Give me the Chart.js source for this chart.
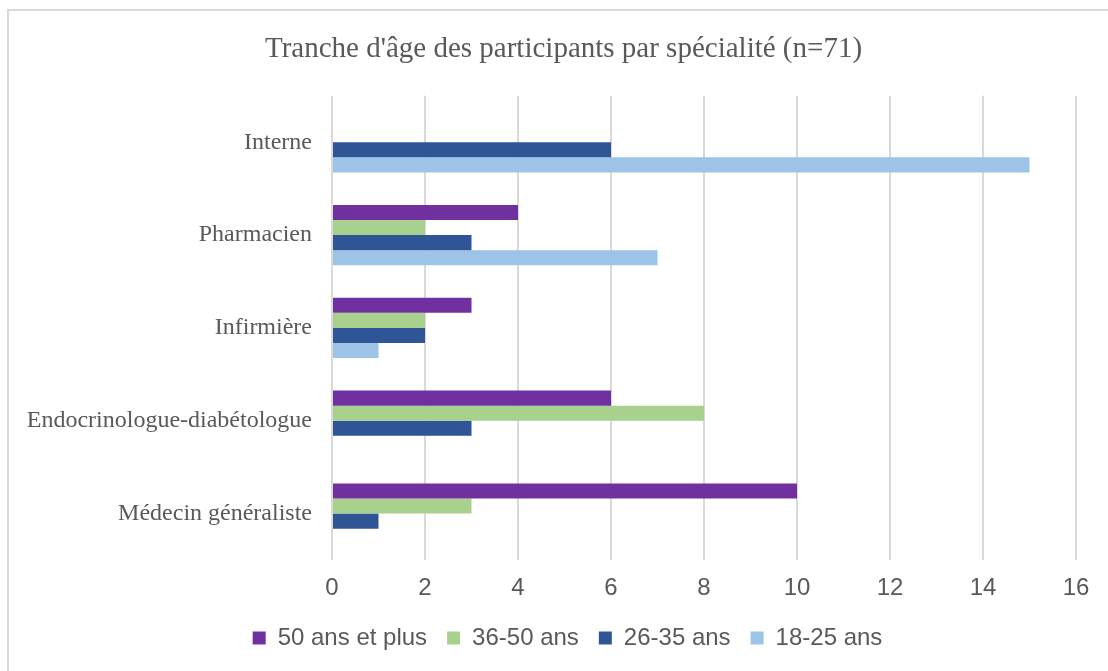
<!DOCTYPE html>
<html>
<head>
<meta charset="utf-8">
<script src="https://cdn.jsdelivr.net/npm/chart.js@4.4.1/dist/chart.umd.min.js"></script>
<style>
  html, body { margin: 0; padding: 0; background: #fff; overflow: hidden; }
  #wrap { position: relative; width: 1108px; height: 671px; }
  #frame { position: absolute; left: 7px; top: 9px; width: 1200px; height: 800px;
           border: 2px solid #d9d9d9; pointer-events: none; }
</style>
</head>
<body>
<div id="wrap">
  <canvas id="bar-chart" width="1108" height="671"></canvas>
  <div id="frame"></div>
</div>
<script>
// categories, top to bottom
const categories = ["Interne", "Pharmacien", "Infirmière", "Endocrinologue-diabétologue", "Médecin généraliste"];
const seriesNames = ["50 ans et plus", "36-50 ans", "26-35 ans", "18-25 ans"];
const age50plus = [0, 4, 3, 6, 10];
const age36to50 = [0, 2, 2, 8, 3];
const age26to35 = [6, 3, 2, 3, 1];
const age18to25 = [15, 7, 1, 0, 0];
const xTicks = [0, 2, 4, 6, 8, 10, 12, 14, 16];

const colors = ["#7030A0", "#A9D18E", "#2F5597", "#9DC3E6"];
const values = [age50plus, age36to50, age26to35, age18to25];

const datasets = [];
for (let i = 0; i < seriesNames.length; i++) {
  datasets.push({
    label: seriesNames[i],
    data: values[i],
    backgroundColor: colors[i],
    borderWidth: 0,
    categoryPercentage: 0.65,
    barPercentage: 1.0
  });
}

// title and legend are centred a bit right of the canvas centre, like the original
const shiftBoxes = {
  id: 'shiftBoxes',
  afterLayout(chart) {
    if (chart.titleBlock) chart.titleBlock.left = 51;
    if (chart.legend) chart.legend.left = 59;
  }
};

new Chart(document.getElementById("bar-chart"), {
  type: 'bar',
  data: { labels: categories, datasets: datasets },
  plugins: [shiftBoxes],
  options: {
    indexAxis: 'y',
    responsive: false,
    animation: false,
    layout: { padding: { top: 10, left: 0, right: 32, bottom: 11 } },
    plugins: {
      title: {
        display: true,
        text: "Tranche d'âge des participants par spécialité (n=71)",
        color: '#595959',
        font: { family: '"Liberation Serif", "Times New Roman", serif', size: 29, weight: 'normal', lineHeight: 1.2 },
        padding: { top: 22, bottom: 29 }
      },
      legend: {
        position: 'bottom',
        labels: {
          color: '#595959',
          boxWidth: 13,
          boxHeight: 13,
          padding: 20,
          font: { family: '"Liberation Sans", Arial, sans-serif', size: 24, lineHeight: 1 }
        }
      },
      tooltip: { enabled: false }
    },
    scales: {
      x: {
        min: 0,
        max: 16,
        afterBuildTicks: (s) => { s.ticks = xTicks.map(v => ({ value: v })); },
        afterFit: (s) => { s.height = 46; },
        grid: { color: '#d9d9d9', lineWidth: 2, drawTicks: false },
        border: { display: false },
        ticks: {
          color: '#595959',
          padding: 14,
          font: { family: '"Liberation Sans", Arial, sans-serif', size: 24 }
        }
      },
      y: {
        afterFit: (s) => { s.width = 332; },
        grid: { display: false, drawTicks: false },
        border: { display: false },
        ticks: {
          color: '#595959',
          padding: 20,
          font: { family: '"Liberation Serif", "Times New Roman", serif', size: 24 }
        }
      }
    }
  }
});
</script>
</body>
</html>
